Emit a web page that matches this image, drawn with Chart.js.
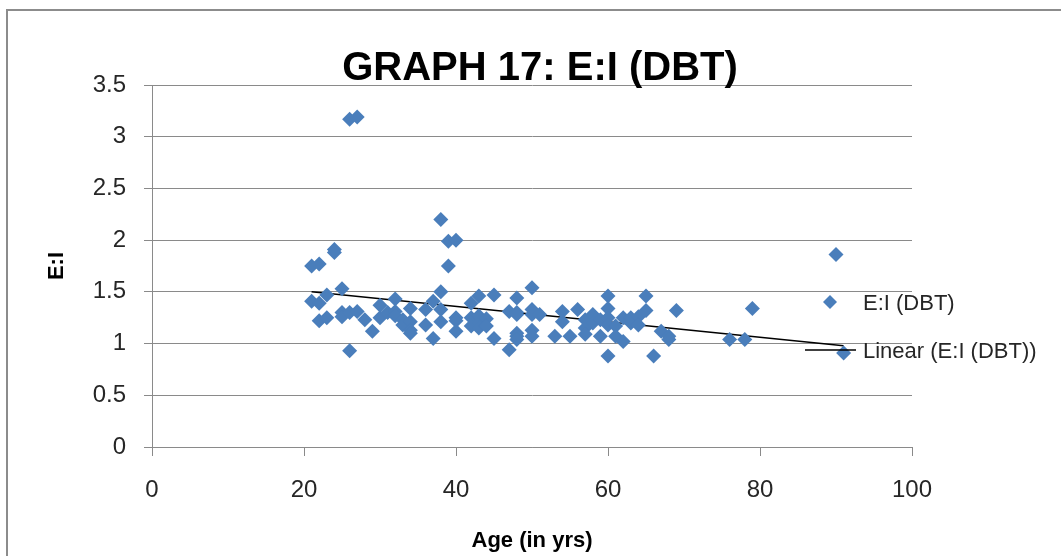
<!DOCTYPE html>
<html>
<head>
<meta charset="utf-8">
<title>GRAPH 17: E:I (DBT)</title>
<script src="https://cdn.jsdelivr.net/npm/chart.js@4.4.1/dist/chart.umd.min.js"></script>
<style>
    html, body { margin: 0; padding: 0; background: #fff; }
    #wrap { width: 1061px; height: 556px; position: relative; }
</style>
</head>
<body>
<div id="wrap"><canvas id="chart-ei"></canvas></div>
<script>
// data
const chartTitle = 'GRAPH 17: E:I (DBT)';
const seriesLabel = 'E:I (DBT)';
const trendLabel = 'Linear (E:I (DBT))';
const xTitle = 'Age (in yrs)';
const yTitle = 'E:I';

const ages = [21, 21, 22, 22, 22, 23, 23, 24, 24, 25, 25, 25, 26, 26, 26, 27, 27, 28, 29, 30, 30, 31, 32, 32, 32,
    33, 33, 34, 34, 34, 34, 36, 36, 37, 37, 38, 38, 38, 38, 39, 39, 40, 40, 40, 40, 42, 42, 42, 43, 43, 43, 43,
    44, 44, 45, 45, 47, 47, 48, 48, 48, 48, 48, 48, 50, 50, 50, 50, 50, 51, 53, 54, 54, 55, 56, 57, 57, 57,
    58, 58, 59, 59, 60, 60, 60, 60, 60, 61, 61, 62, 62, 63, 63, 64, 64, 65, 65, 66, 67, 68, 68, 69, 76, 78, 79, 90, 91];
const eiRatio = [1.75, 1.41, 1.77, 1.39, 1.22, 1.47, 1.25, 1.91, 1.88, 1.53, 1.30, 1.26, 3.17, 1.30, 0.93, 3.19, 1.31, 1.23, 1.12, 1.37, 1.25, 1.30, 1.43, 1.31, 1.27,
    1.23, 1.18, 1.34, 1.21, 1.13, 1.10, 1.33, 1.18, 1.41, 1.05, 2.20, 1.50, 1.33, 1.21, 1.99, 1.75, 2.00, 1.25, 1.22, 1.12, 1.39, 1.25, 1.17, 1.46, 1.27, 1.20, 1.15,
    1.24, 1.17, 1.47, 1.05, 1.31, 0.94, 1.44, 1.30, 1.28, 1.10, 1.07, 1.04, 1.54, 1.33, 1.28, 1.13, 1.07, 1.28, 1.07, 1.31, 1.21, 1.07, 1.33, 1.23, 1.15, 1.09,
    1.28, 1.20, 1.23, 1.07, 1.46, 1.34, 1.25, 1.18, 0.88, 1.17, 1.07, 1.25, 1.02, 1.25, 1.20, 1.26, 1.18, 1.46, 1.32, 0.88, 1.12, 1.07, 1.04, 1.32, 1.04, 1.04, 1.34, 1.86, 0.91];

// linear trend line ends as drawn in the picture
const trendAges = [21, 91];
const trendValues = [1.50, 0.98];

const xTicks = [0, 20, 40, 60, 80, 100];
const yTicks = [0, 0.5, 1, 1.5, 2, 2.5, 3, 3.5];

const blue = '#4a7ebb';
const gridGray = '#8a8a8a';
const textColor = '#262626';
const fontName = '"Liberation Sans", Arial, sans-serif';

// title, legend and frame are drawn by hand so the plot area keeps its size
const decorPlugin = {
    id: 'decor',
    beforeDraw(chart) {
        const ctx = chart.ctx;
        ctx.save();
        ctx.strokeStyle = '#8c8c8c';
        ctx.lineWidth = 2;
        ctx.beginPath();
        ctx.moveTo(7, 556);
        ctx.lineTo(7, 10);
        ctx.lineTo(1061, 10);
        ctx.stroke();
        ctx.restore();
    },
    afterDraw(chart) {
        const ctx = chart.ctx;
        ctx.save();
        ctx.fillStyle = '#000';
        ctx.font = 'bold 40px ' + fontName;
        ctx.textAlign = 'center';
        ctx.textBaseline = 'alphabetic';
        ctx.fillText(chartTitle, 540, 80);

        // legend
        ctx.fillStyle = blue;
        ctx.beginPath();
        ctx.moveTo(830, 295);
        ctx.lineTo(837, 302);
        ctx.lineTo(830, 309);
        ctx.lineTo(823, 302);
        ctx.closePath();
        ctx.fill();

        ctx.strokeStyle = '#000';
        ctx.lineWidth = 1.5;
        ctx.beginPath();
        ctx.moveTo(805, 350);
        ctx.lineTo(856, 350);
        ctx.stroke();

        ctx.fillStyle = textColor;
        ctx.font = '22px ' + fontName;
        ctx.textAlign = 'left';
        ctx.fillText(chart.data.datasets[0].label, 863, 310);
        ctx.fillText(chart.data.datasets[1].label, 863, 358);
        ctx.restore();
    }
};

document.addEventListener('DOMContentLoaded', () => {
    const n = Math.min(ages.length, eiRatio.length);
    const points = [];
    for (let i = 0; i < n; i++) {
        points.push({ x: ages[i], y: eiRatio[i] });
    }
    const trend = trendAges.map((a, i) => ({ x: a, y: trendValues[i] }));

    new Chart(document.getElementById('chart-ei'), {
        type: 'scatter',
        data: {
            datasets: [{
                label: seriesLabel,
                data: points,
                pointStyle: 'rectRot',
                pointRadius: 7.5,
                pointHoverRadius: 7.5,
                backgroundColor: blue,
                borderColor: blue,
                borderWidth: 0
            }, {
                type: 'line',
                label: trendLabel,
                data: trend,
                borderColor: '#000',
                borderWidth: 1.5,
                pointRadius: 0,
                fill: false
            }]
        },
        options: {
            responsive: true,
            maintainAspectRatio: false,
            animation: false,
            layout: { padding: { left: 40, top: 85, right: 149, bottom: 0 } },
            plugins: {
                legend: { display: false },
                title: { display: false },
                tooltip: { enabled: false }
            },
            scales: {
                x: {
                    type: 'linear',
                    min: 0,
                    max: 100,
                    afterFit: (s) => { s.height = 109; },
                    afterBuildTicks: (s) => { s.ticks = xTicks.map(v => ({ value: v })); },
                    grid: { drawOnChartArea: false, tickLength: 9, color: gridGray, lineWidth: 1 },
                    border: { color: gridGray, width: 1 },
                    ticks: {
                        padding: 20,
                        color: textColor,
                        font: { family: fontName, size: 24 },
                        callback: (v) => String(v)
                    },
                    title: {
                        display: true,
                        text: xTitle,
                        color: '#000',
                        font: { family: fontName, size: 22, weight: 'bold' },
                        padding: { top: 2, bottom: 2 }
                    }
                },
                y: {
                    min: 0,
                    max: 3.5,
                    afterFit: (s) => { s.width = 112; },
                    afterBuildTicks: (s) => { s.ticks = yTicks.map(v => ({ value: v })); },
                    grid: { tickLength: 8, color: gridGray, lineWidth: 1 },
                    border: { color: gridGray, width: 1 },
                    ticks: {
                        padding: 18,
                        color: textColor,
                        font: { family: fontName, size: 24 },
                        callback: (v) => String(v)
                    },
                    title: {
                        display: true,
                        text: yTitle,
                        color: '#000',
                        font: { family: fontName, size: 22, weight: 'bold' },
                        padding: { top: 4, bottom: 4 }
                    }
                }
            }
        },
        plugins: [decorPlugin]
    });
});
</script>
</body>
</html>
